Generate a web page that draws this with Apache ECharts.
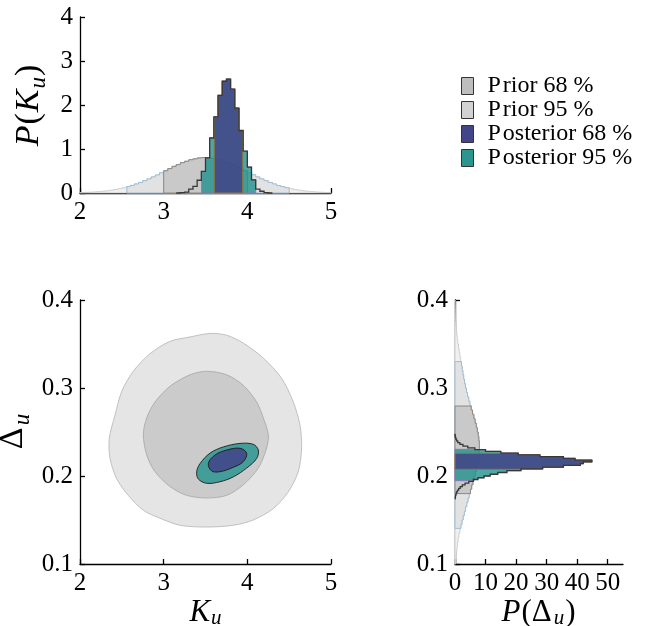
<!DOCTYPE html>
<html><head><meta charset="utf-8">
<script src="https://cdn.jsdelivr.net/npm/echarts@6/dist/echarts.min.js"></script>
<style>html,body{margin:0;padding:0;background:#fff}#c{width:649px;height:626px}</style>
</head><body><div id="c"></div><script>
// ---------------- data ----------------
// K_u marginal histograms (bin start, bin width, densities)
const kPriorStart = 2.0, kPriorWidth = 0.05;
const kPrior = [0.010,0.014,0.018,0.024,0.031,0.040,0.050,0.064,0.079,0.098,
                0.120,0.145,0.172,0.205,0.240,0.280,0.320,0.365,0.410,0.460,
                0.505,0.555,0.605,0.645,0.690,0.720,0.755,0.775,0.795,0.805,
                0.800,0.790,0.770,0.750,0.715,0.685,0.640,0.600,0.550,0.505,
                0.460,0.415,0.365,0.320,0.280,0.240,0.205,0.170,0.145,0.120,
                0.098,0.079,0.064,0.050,0.040,0.031,0.024,0.018,0.014,0.010];
const kPostStart = 3.15, kPostWidth = 0.05;
const kPost = [0.00,0.01,0.02,0.09,0.15,0.29,0.49,0.80,1.25,1.73,2.22,2.54,2.59,
               2.36,1.93,1.42,0.95,0.59,0.30,0.09,0.04,0.01,0.00];
const kPrior68 = [3.00, 4.00], kPrior95 = [2.56, 4.50];
const kPost68 = [3.605, 3.945], kPost95 = [3.454, 4.10];

// Delta_u marginal histograms
const dPriorStart = 0.10, dPriorWidth = 0.005;
const dPrior = [0.30,0.40,0.52,0.66,0.83,1.03,1.28,1.58,1.92,2.28,
                2.66,3.05,3.45,3.85,4.26,4.66,5.06,5.45,5.86,6.25,
                6.62,6.97,7.28,7.55,7.77,7.92,7.98,7.95,7.80,7.58,
                7.30,6.96,6.58,6.17,5.74,5.30,4.88,4.48,4.10,3.75,
                3.42,3.12,2.84,2.58,2.34,2.10,1.86,1.62,1.38,1.15,
                0.93,0.74,0.57,0.43,0.32,0.23,0.16,0.11,0.07,0.04];
const dPostStart = 0.174, dPostWidth = 0.002;
const dPost = [0.08,0.15,0.3,0.5,0.8,1.2,1.7,2.4,3.3,4.5,6.0,7.5,9.5,11.5,14,17,
               21.6,28.7,35.5,41,42,44.8,39.3,35.5,27.8,20.7,
               15,10,6.5,4.2,2.6,1.6,0.9,0.5,0.25,0.1,0];
const dPrior68 = [0.180, 0.2795], dPrior95 = [0.1405, 0.330];
const dPost68 = [0.2076, 0.2258], dPost95 = [0.1947, 0.2303];

// 2D credible contours  [K_u, Delta_u]
const prior95Contour = [[3.554,0.362],[3.315,0.358],[3.076,0.353],[2.837,0.339],[2.637,0.319],
  [2.498,0.296],[2.418,0.269],[2.350,0.243],[2.359,0.220],[2.438,0.197],[2.577,0.178],
  [2.757,0.161],[2.956,0.152],[3.195,0.144],[3.514,0.142],[3.832,0.144],[4.071,0.150],
  [4.311,0.163],[4.490,0.182],[4.609,0.205],[4.649,0.232],[4.629,0.258],[4.550,0.284],
  [4.410,0.311],[4.191,0.334],[3.952,0.351],[3.753,0.360]];
const prior68Contour = [[3.514,0.319],[3.315,0.315],[3.076,0.302],[2.896,0.284],[2.797,0.266],
  [2.757,0.247],[2.797,0.224],[2.896,0.205],[3.076,0.188],[3.275,0.178],[3.514,0.175],
  [3.753,0.178],[3.952,0.190],[4.131,0.209],[4.231,0.232],[4.251,0.247],[4.191,0.266],
  [4.112,0.284],[3.952,0.303],[3.753,0.315]];
const post95Contour = [[3.395,0.205],[3.434,0.214],[3.554,0.226],[3.713,0.233],[3.912,0.237],
  [4.071,0.236],[4.131,0.2295],[4.112,0.220],[3.992,0.209],[3.832,0.199],[3.673,0.1935],
  [3.514,0.1917],[3.414,0.1966]];
const post68Contour = [[3.534,0.2144],[3.614,0.2239],[3.753,0.2295],[3.912,0.2315],[3.992,0.2258],
  [3.952,0.2163],[3.832,0.2099],[3.673,0.2049],[3.574,0.2057]];

const legendNames = ['Prior 68 %', 'Prior 95 %', 'Posterior 68 %', 'Posterior 95 %'];
const kTicks = [2, 3, 4, 5];
const pkTicks = [0, 1, 2, 3, 4];
const dTicks = [0.1, 0.2, 0.3, 0.4];
const pdTicks = [0, 10, 20, 30, 40, 50];

// ---------------- helpers ----------------
const FONT = 'Liberation Serif';
function stepPts(start, width, vals, lo, hi) {
  const pts = [[lo, 0]];
  for (let i = 0; i < vals.length; i++) {
    const a = start + i * width, b = a + width;
    const s = Math.max(a, lo), e = Math.min(b, hi);
    if (e <= s) continue;
    pts.push([s, vals[i]], [e, vals[i]]);
  }
  pts.push([hi, 0]);
  return pts;
}
function fullRange(start, width, vals) { return [start, start + width * vals.length]; }

function shape(name, gi, pts, opt) {
  return {
    type: 'custom', name: name, xAxisIndex: gi, yAxisIndex: gi, z: opt.z || 2,
    coordinateSystem: 'cartesian2d', data: [[0, 0]], silent: true, animation: false,
    renderItem: function (params, api) {
      const p = pts.map(q => api.coord(opt.swap ? [q[1], q[0]] : q));
      return {
        type: opt.closed ? 'polygon' : 'polyline',
        shape: { points: p, smooth: opt.smooth || 0 },
        style: { fill: opt.closed ? opt.fill : null, stroke: opt.stroke, lineWidth: opt.lw || 1 }
      };
    }
  };
}

const C = {
  priorTail: '#f0f0f0', priorTailLine: '#c6c6c6',
  prior95: '#e2e2e2', prior95Line: '#9fbdd8',
  prior68: '#c9c9c9', prior68Line: '#8d8883',
  post95: 'rgba(33,145,140,0.8)', post95Line: '#8a7ab8',
  post68: 'rgba(65,68,135,0.86)', post68Line: '#8c7a3c',
  postLine: '#3a3636'
};

function histSeries(gi, swap, pr, prS, prW, pr68, pr95, po, poS, poW, po68, po95) {
  const prR = fullRange(prS, prW, pr), poR = fullRange(poS, poW, po);
  return [
    shape('', gi, stepPts(prS, prW, pr, prR[0], prR[1]), {closed: true, fill: C.priorTail, stroke: C.priorTailLine, lw: 0.8, z: 2, swap}),
    shape('', gi, stepPts(prS, prW, pr, pr95[0], pr95[1]), {closed: true, fill: C.prior95, stroke: C.prior95Line, lw: 1, z: 3, swap}),
    shape('', gi, stepPts(prS, prW, pr, pr68[0], pr68[1]), {closed: true, fill: C.prior68, stroke: C.prior68Line, lw: 1, z: 4, swap}),
    shape('', gi, stepPts(poS, poW, po, po95[0], po95[1]), {closed: true, fill: C.post95, stroke: C.post95Line, lw: 1, z: 5, swap}),
    shape('', gi, stepPts(poS, poW, po, po68[0], po68[1]), {closed: true, fill: C.post68, stroke: C.post68Line, lw: 1, z: 6, swap}),
    shape('', gi, stepPts(poS, poW, po, poR[0], poR[1]), {closed: false, stroke: C.postLine, lw: 1.3, z: 7, swap})
  ];
}

const axisCommon = {
  axisLine: { show: true, onZero: false, lineStyle: { color: '#000', width: 1.3 } },
  axisTick: { show: true, inside: true, length: 5, lineStyle: { color: '#000', width: 1.3 } },
  splitLine: { show: false },
  axisLabel: { color: '#000', fontFamily: FONT, fontSize: 25, margin: 7 },
  nameLocation: 'middle'
};
function ax(extra) {
  const o = JSON.parse(JSON.stringify(axisCommon));
  for (const k in extra) {
    if (typeof extra[k] === 'object' && !Array.isArray(extra[k]) && o[k]) Object.assign(o[k], extra[k]);
    else o[k] = extra[k];
  }
  return o;
}
function richSet(big, small, drop) {
  return {
    i: { fontFamily: FONT, fontStyle: 'italic', fontSize: big, color: '#000' },
    r: { fontFamily: FONT, fontSize: big, color: '#000', padding: [0, 1, 0, 1] },
    s: { fontFamily: FONT, fontStyle: 'italic', fontSize: small, color: '#000', padding: [drop, 0, 0, 1] }
  };
}
const nameRichY = richSet(34, 23, 19);
const nameRichX = richSet(31, 21, 12);

const series = [].concat(
  histSeries(0, false, kPrior, kPriorStart, kPriorWidth, kPrior68, kPrior95, kPost, kPostStart, kPostWidth, kPost68, kPost95),
  [
    shape(legendNames[1], 1, prior95Contour, {closed: true, fill: '#e5e5e5', stroke: '#b4b4b4', lw: 0.8, z: 2, smooth: 0.3}),
    shape(legendNames[0], 1, prior68Contour, {closed: true, fill: '#cbcbcb', stroke: '#a4a4a4', lw: 0.8, z: 3, smooth: 0.3}),
    shape(legendNames[3], 1, post95Contour, {closed: true, fill: C.post95, stroke: '#2a2a2a', lw: 1, z: 4, smooth: 0.35}),
    shape(legendNames[2], 1, post68Contour, {closed: true, fill: C.post68, stroke: '#222', lw: 1, z: 5, smooth: 0.35})
  ],
  histSeries(2, true, dPrior, dPriorStart, dPriorWidth, dPrior68, dPrior95, dPost, dPostStart, dPostWidth, dPost68, dPost95)
);

const option = {
  animation: false,
  backgroundColor: '#fff',
  grid: [
    { left: 80, top: 17, width: 251, height: 176, outerBoundsMode: 'none', containLabel: false },
    { left: 80, top: 300, width: 251, height: 264, outerBoundsMode: 'none', containLabel: false },
    { left: 455, top: 300, width: 168, height: 264, outerBoundsMode: 'none', containLabel: false }
  ],
  xAxis: [
    ax({ gridIndex: 0, type: 'value', min: kTicks[0], max: kTicks[kTicks.length - 1], interval: 1 }),
    ax({ gridIndex: 1, type: 'value', min: kTicks[0], max: kTicks[kTicks.length - 1], interval: 1,
         name: '{i|K}{s|u}', nameGap: 24, nameTextStyle: { rich: nameRichX } }),
    ax({ gridIndex: 2, type: 'value', min: 0, max: 55, interval: 10,
         axisTick: { customValues: pdTicks }, axisLabel: { customValues: pdTicks },
         name: '{i|P}{r|(Δ}{s|u}{r|)}', nameGap: 24, nameTextStyle: { rich: nameRichX } })
  ],
  yAxis: [
    ax({ gridIndex: 0, type: 'value', min: pkTicks[0], max: pkTicks[pkTicks.length - 1], interval: 1,
         name: '{i|P}{r|(}{i|K}{s|u}{r|)}', nameGap: 30, nameTextStyle: { rich: nameRichY } }),
    ax({ gridIndex: 1, type: 'value', min: dTicks[0], max: dTicks[dTicks.length - 1], interval: 0.1,
         name: '{r|Δ}{s|u}', nameGap: 46, nameTextStyle: { rich: nameRichY } }),
    ax({ gridIndex: 2, type: 'value', min: dTicks[0], max: dTicks[dTicks.length - 1], interval: 0.1 })
  ],
  legend: {
    orient: 'vertical', left: 461, top: 74, icon: 'rect', padding: 0,
    itemWidth: 12, itemHeight: 17, itemGap: 0,
    formatter: function (n) { return '{p|' + n.charAt(0) + '}{t|' + n.slice(1) + '}'; },
    textStyle: {
      fontFamily: FONT, fontSize: 24, color: '#000', padding: [0, 0, 0, 9],
      rich: {
        p: { fontFamily: FONT, fontSize: 24, color: '#000', padding: [0, 2, 0, 0] },
        t: { fontFamily: FONT, fontSize: 24, color: '#000' }
      }
    },
    selectedMode: false,
    data: [
      { name: legendNames[0], itemStyle: { color: '#bebebe', borderColor: '#333', borderWidth: 1 } },
      { name: legendNames[1], itemStyle: { color: '#d2d2d2', borderColor: '#333', borderWidth: 1 } },
      { name: legendNames[2], itemStyle: { color: '#424689', borderColor: '#333', borderWidth: 1 } },
      { name: legendNames[3], itemStyle: { color: '#2a968f', borderColor: '#333', borderWidth: 1 } }
    ]
  },
  series: series
};
const chart = echarts.init(document.getElementById('c'), null, { renderer: 'canvas' });
chart.setOption(option);
</script></body></html>
